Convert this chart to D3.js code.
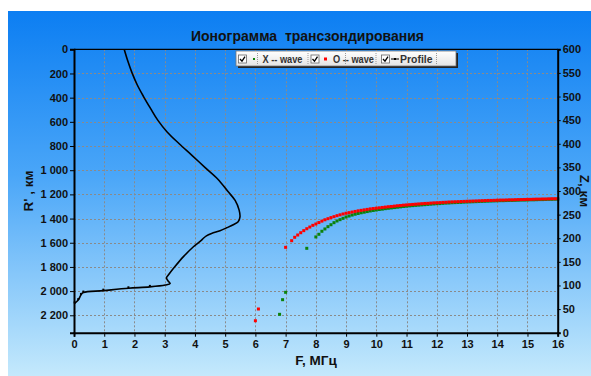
<!DOCTYPE html>
<html>
<head>
<meta charset="utf-8">
<script src="https://cdn.jsdelivr.net/npm/d3@7/dist/d3.min.js"></script>
<style>
  html, body { margin: 0; padding: 0; background: #ffffff; }
  svg { display: block; font-family: "Liberation Sans", Arial, sans-serif; }
  .pre { white-space: pre; }
</style>
</head>
<body>
<svg id="chart" width="591" height="376"></svg>
<script>
// Frequency axis ticks (MHz) and range / height ticks
const freqTicks = d3.range(0, 17, 1);
const rangeTicks = [0, 200, 400, 600, 800, 1000, 1200, 1400, 1600, 1800, 2000, 2200];
const heightTicks = [0, 50, 100, 150, 200, 250, 300, 350, 400, 450, 500, 550, 600];

// O-wave trace: [frequency MHz, group range R' km]
const oWave = [
  [6.0, 2245], [6.1, 2148], [7.0, 1638],
  [7.2, 1583], [7.3, 1555], [7.4, 1536], [7.5, 1517], [7.6, 1500], [7.7, 1484], [7.8, 1470], [7.9, 1456],
  [8.0, 1445], [8.1, 1433], [8.2, 1421], [8.3, 1410], [8.4, 1401], [8.5, 1392], [8.6, 1384], [8.7, 1376], [8.8, 1369], [8.9, 1362],
  [9.0, 1356], [9.1, 1351], [9.2, 1346], [9.3, 1341], [9.4, 1336], [9.5, 1332], [9.6, 1328], [9.7, 1324], [9.8, 1320], [9.9, 1317],
  [10.0, 1314], [10.1, 1311], [10.2, 1308], [10.3, 1305], [10.4, 1302], [10.5, 1300], [10.6, 1297], [10.7, 1294], [10.8, 1292], [10.9, 1289],
  [11.0, 1287], [11.1, 1285], [11.2, 1283], [11.3, 1281], [11.4, 1279], [11.5, 1277], [11.6, 1275], [11.7, 1274], [11.8, 1272], [11.9, 1270],
  [12.0, 1269], [12.1, 1268], [12.2, 1266], [12.3, 1265], [12.4, 1263], [12.5, 1262], [12.6, 1261], [12.7, 1260], [12.8, 1259], [12.9, 1258],
  [13.0, 1257], [13.1, 1256], [13.2, 1255], [13.3, 1254], [13.4, 1253], [13.5, 1252], [13.6, 1251], [13.7, 1250], [13.8, 1250], [13.9, 1249],
  [14.0, 1248], [14.1, 1247], [14.2, 1247], [14.3, 1246], [14.4, 1245], [14.5, 1245], [14.6, 1244], [14.7, 1243], [14.8, 1243], [14.9, 1242],
  [15.0, 1241], [15.1, 1241], [15.2, 1240], [15.3, 1239], [15.4, 1239], [15.5, 1238], [15.6, 1238], [15.7, 1237], [15.8, 1236], [15.9, 1236],
  [16.0, 1235]
];

// X-wave trace: [frequency MHz, group range R' km]
const xWave = [
  [6.8, 2192], [6.9, 2071], [7.0, 2010], [7.7, 1646],
  [8.0, 1552], [8.1, 1530], [8.2, 1505], [8.3, 1486], [8.4, 1467], [8.5, 1451], [8.6, 1434], [8.7, 1420], [8.8, 1409], [8.9, 1398],
  [9.0, 1387], [9.1, 1379], [9.2, 1371], [9.3, 1364], [9.4, 1358], [9.5, 1352], [9.6, 1347], [9.7, 1342], [9.8, 1337], [9.9, 1333],
  [10.0, 1329], [10.1, 1325], [10.2, 1322], [10.3, 1318], [10.4, 1315], [10.5, 1312], [10.6, 1309], [10.7, 1306], [10.8, 1303], [10.9, 1300],
  [11.0, 1298], [11.1, 1295], [11.2, 1293], [11.3, 1291], [11.4, 1289], [11.5, 1287], [11.6, 1285], [11.7, 1283], [11.8, 1281], [11.9, 1279],
  [12.0, 1277], [12.1, 1276], [12.2, 1274], [12.3, 1272], [12.4, 1271], [12.5, 1269], [12.6, 1268], [12.7, 1267], [12.8, 1266], [12.9, 1264],
  [13.0, 1263], [13.1, 1262], [13.2, 1261], [13.3, 1260], [13.4, 1259], [13.5, 1258], [13.6, 1257], [13.7, 1256], [13.8, 1255], [13.9, 1254],
  [14.0, 1253], [14.1, 1252], [14.2, 1252], [14.3, 1251], [14.4, 1250], [14.5, 1250], [14.6, 1249], [14.7, 1248], [14.8, 1247], [14.9, 1247],
  [15.0, 1246], [15.1, 1245], [15.2, 1245], [15.3, 1244], [15.4, 1243], [15.5, 1243], [15.6, 1242], [15.7, 1241], [15.8, 1241], [15.9, 1240],
  [16.0, 1240]
];

// Electron density profile: [plasma frequency MHz, height Z km]
const profile = [
  [1.66, 600], [1.78, 575], [1.92, 550], [2.09, 525], [2.30, 500], [2.53, 475], [2.77, 450], [3.08, 425],
  [3.48, 400], [3.91, 375], [4.33, 350], [4.76, 325], [5.08, 300], [5.33, 280], [5.46, 260], [5.49, 245],
  [5.43, 235], [5.25, 228], [5.05, 222], [4.83, 216], [4.55, 210], [4.38, 205], [4.28, 200], [4.20, 195],
  [3.95, 182], [3.62, 161], [3.34, 140], [3.12, 122], [3.06, 116], [3.12, 109], [3.18, 104], [3.02, 101],
  [2.51, 97], [1.80, 94], [0.97, 89], [0.31, 85], [0.23, 80], [0.14, 69], [0.02, 62]
];

const svg = d3.select("#chart");
const W = 591, H = 376;
const plot = { left: 74, right: 557.7, top: 49.3, bottom: 332.7 };

const x = d3.scaleLinear().domain([0, 16]).range([plot.left, plot.right]);
const yR = d3.scaleLinear().domain([0, 2344]).range([plot.top, plot.bottom]);
const yZ = d3.scaleLinear().domain([0, 600]).range([plot.bottom, plot.top]);

const ru = d3.formatLocale({ decimal: ",", thousands: "\u00a0", grouping: [3], currency: ["", ""] });
const fmtRange = ru.format(",");

// Background panel with vertical gradient
const defs = svg.append("defs");
const bg = defs.append("linearGradient").attr("id", "bg").attr("x1", 0).attr("y1", 0).attr("x2", 0).attr("y2", 1);
bg.append("stop").attr("offset", "0%").attr("stop-color", "#0c7ef2");
bg.append("stop").attr("offset", "45%").attr("stop-color", "#4aa6f8");
bg.append("stop").attr("offset", "100%").attr("stop-color", "#c4e9fc");
const lg = defs.append("linearGradient").attr("id", "lg").attr("x1", 0).attr("y1", 0).attr("x2", 0).attr("y2", 1);
lg.append("stop").attr("offset", "0%").attr("stop-color", "#ffffff");
lg.append("stop").attr("offset", "100%").attr("stop-color", "#e4e4e4");

svg.append("rect").attr("x", 8).attr("y", 11).attr("width", W - 8).attr("height", H - 11).attr("fill", "url(#bg)");

// Grid
const grid = svg.append("g").attr("stroke", "#8a8a8a").attr("stroke-width", 1).attr("stroke-dasharray", "2,2");
grid.selectAll("line.v").data(freqTicks.slice(1, -1)).join("line")
  .attr("x1", d => Math.round(x(d)) + 0.5).attr("x2", d => Math.round(x(d)) + 0.5)
  .attr("y1", plot.top).attr("y2", plot.bottom);
grid.selectAll("line.h").data(rangeTicks.slice(1)).join("line")
  .attr("y1", d => Math.round(yR(d)) + 0.5).attr("y2", d => Math.round(yR(d)) + 0.5)
  .attr("x1", plot.left).attr("x2", plot.right);

// Profile curve
svg.append("path").datum(profile)
  .attr("fill", "none").attr("stroke", "#000").attr("stroke-width", 1.6).attr("stroke-linejoin", "round")
  .attr("d", d3.line().x(d => x(d[0])).y(d => yZ(d[1])).curve(d3.curveCatmullRom.alpha(0.5)));
svg.append("g").selectAll("rect").data(profile.filter(d => d[1] < 100)).join("rect")
  .attr("x", d => x(d[0]) - 1).attr("y", d => yZ(d[1]) - 2).attr("width", 2).attr("height", 2).attr("fill", "#000");

// X-wave and O-wave points
svg.append("g").selectAll("rect").data(xWave).join("rect")
  .attr("x", d => x(d[0]) - 1.5).attr("y", d => yR(d[1]) - 1.5).attr("width", 3).attr("height", 3).attr("fill", "#0b820b");
svg.append("g").selectAll("rect").data(oWave).join("rect")
  .attr("x", d => x(d[0]) - 1.5).attr("y", d => yR(d[1]) - 1.5).attr("width", 3).attr("height", 3).attr("fill", "#ff0000");

// Axes
const axisStyle = g => {
  g.selectAll("text").attr("font-size", 11).attr("font-weight", "bold").attr("fill", "#111")
    .attr("font-family", "'Liberation Sans', Arial, sans-serif");
  g.selectAll(".tick line").attr("stroke", "#000");
  g.select(".domain").attr("stroke", "#000").attr("stroke-width", 2);
};
svg.append("g").attr("transform", `translate(0,${plot.bottom})`)
  .call(d3.axisBottom(x).tickValues(freqTicks).tickFormat(d3.format("d")).tickSizeOuter(0).tickSize(4).tickPadding(4))
  .call(axisStyle);
svg.append("g").attr("transform", `translate(${plot.left},0)`)
  .call(d3.axisLeft(yR).tickValues(rangeTicks).tickFormat(fmtRange).tickSizeOuter(0).tickSize(4).tickPadding(2))
  .call(axisStyle);
svg.append("g").attr("transform", `translate(${plot.right},0)`)
  .call(d3.axisRight(yZ).tickValues(heightTicks).tickFormat(d3.format("d")).tickSizeOuter(0).tickSize(3).tickPadding(2))
  .call(axisStyle);
svg.append("line").attr("x1", plot.left).attr("x2", plot.right).attr("y1", plot.top).attr("y2", plot.top)
  .attr("stroke", "#000").attr("stroke-width", 1.2);

// Titles
svg.append("text").attr("class", "pre").attr("x", 307.5).attr("y", 40.5).attr("text-anchor", "middle")
  .attr("font-size", 14).attr("font-weight", "bold").attr("fill", "#111")
  .text("Ионограмма  трансзондирования");
svg.append("text").attr("x", 316).attr("y", 365).attr("text-anchor", "middle")
  .attr("font-size", 13.5).attr("font-weight", "bold").attr("fill", "#111").text("F, МГц");
svg.append("text").attr("transform", "translate(33,191) rotate(-90)").attr("text-anchor", "middle")
  .attr("font-size", 13.5).attr("font-weight", "bold").attr("fill", "#111").text("R' , км");
svg.append("text").attr("transform", "translate(580,191) rotate(90)").attr("text-anchor", "middle")
  .attr("font-size", 13.5).attr("font-weight", "bold").attr("fill", "#111").text("Z, км");

// Legend
const legend = svg.append("g");
legend.append("rect").attr("x", 238).attr("y", 53).attr("width", 220).attr("height", 15).attr("fill", "#222");
legend.append("rect").attr("x", 236).attr("y", 51).attr("width", 220).attr("height", 15)
  .attr("fill", "url(#lg)").attr("stroke", "#777").attr("stroke-width", 0.8);
const items = [
  { box: 238.5, mark: "x", mx: 254, tx: 262.5, tw: 40, label: "X -- wave" },
  { box: 311, mark: "o", mx: 325.5, tx: 333, tw: 41, label: "O -- wave" },
  { box: 381.5, mark: "p", mx: 395, tx: 400, tw: 32.5, label: "Profile" }
];
const seps = [257.5, 308, 345.5, 376, 436.5];
legend.selectAll("line.sep").data(seps).join("line")
  .attr("x1", d => d).attr("x2", d => d).attr("y1", 53).attr("y2", 65)
  .attr("stroke", "#999").attr("stroke-dasharray", "1,1");
items.forEach(it => {
  legend.append("rect").attr("x", it.box).attr("y", 55).attr("width", 8).attr("height", 8)
    .attr("fill", "#fff").attr("stroke", "#666").attr("stroke-width", 0.8);
  legend.append("path").attr("d", `M${it.box + 1.5},${59} l2,2.2 l3,-4.6`)
    .attr("fill", "none").attr("stroke", "#000").attr("stroke-width", 1.3);
  if (it.mark === "x") legend.append("rect").attr("x", it.mx - 1).attr("y", 58).attr("width", 2).attr("height", 2).attr("fill", "#0b820b");
  if (it.mark === "o") legend.append("rect").attr("x", it.mx - 1.5).attr("y", 57.5).attr("width", 3).attr("height", 3).attr("fill", "#ff0000");
  if (it.mark === "p") {
    legend.append("line").attr("x1", it.mx - 4).attr("x2", it.mx + 4).attr("y1", 59).attr("y2", 59).attr("stroke", "#000").attr("stroke-width", 1);
    legend.append("rect").attr("x", it.mx - 1).attr("y", 58).attr("width", 2).attr("height", 2).attr("fill", "#000");
  }
  legend.append("text").attr("class", "pre").attr("x", it.tx).attr("y", 63).attr("font-size", 10).attr("font-weight", "bold")
    .attr("fill", "#333").attr("textLength", it.tw).attr("lengthAdjust", "spacingAndGlyphs").text(it.label);
});
</script>
</body>
</html>
